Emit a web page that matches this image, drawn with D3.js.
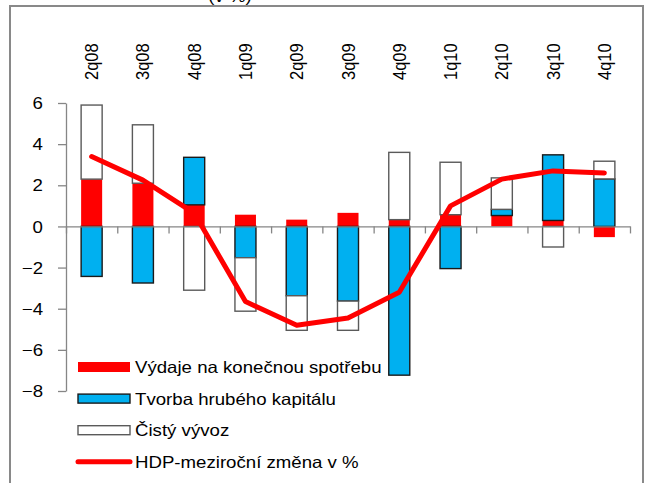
<!DOCTYPE html>
<html>
<head>
<meta charset="utf-8">
<script src="https://cdn.jsdelivr.net/npm/d3@7"></script>
<style>
    body { margin: 0; background: #fff; }
    text { font-family: "Liberation Sans", Arial, sans-serif; fill: #000; }
</style>
</head>
<body>
<svg id="chart"></svg>
<script>
var quarters = ['2q08', '3q08', '4q08', '1q09', '2q09', '3q09', '4q09', '1q10', '2q10', '3q10', '4q10'];

// složky příspěvku k růstu HDP (p.b.)
var spotreba = [2.3, 2.1, 1.05, 0.57, 0.33, 0.66, 0.33, 0.57, 0.53, 0.29, -0.52];
var kapital = [-2.43, -2.75, 2.31, -1.52, -3.37, -3.63, -7.23, -2.05, 0.3, 3.19, 2.31];
var vyvoz = [3.6, 2.84, -3.1, -2.6, -1.68, -1.42, 3.27, 2.55, 1.53, -1.0, 0.86];
var hdp = [3.4, 2.25, 0.65, -3.65, -4.8, -4.45, -3.2, 1.0, 2.3, 2.7, 2.6];

var yTicks = [6, 4, 2, 0, -2, -4, -6, -8];
var seriesNames = ['Výdaje na konečnou spotřebu', 'Tvorba hrubého kapitálu', 'Čistý vývoz', 'HDP-meziroční změna v %'];

var stretch = 'scale(1.13,1)';

var svg = d3.select('svg#chart')
    .attr('width', 650)
    .attr('height', 483) ;

// title, mostly cut off above the frame
svg.append('text')
    .attr('transform', 'translate(230,2) ' + stretch)
    .attr('text-anchor', 'middle')
    .style('font-size', '16.5px')
    .text('(v %)') ;

svg.append('rect')
    .attr('x', 10)
    .attr('y', 6)
    .attr('width', 633)
    .attr('height', 520)
    .attr('fill', 'none')
    .attr('stroke', '#898989')
    .attr('stroke-width', 2) ;

var x = d3.scaleBand()
    .domain(quarters)
    .range([66, 630])
    .paddingInner(0.59)
    .paddingOuter(0.295) ;

var xTicks = d3.scaleLinear()
    .domain([0, quarters.length])
    .range([66, 630]) ;

var y = d3.scaleLinear()
    .domain([-8, 6])
    .range([391, 103]) ;

var rows = quarters.map(function (q, i) {
    return { q: q, spotreba: spotreba[i], kapital: kapital[i], vyvoz: vyvoz[i] };
});

var stack = d3.stack()
    .keys(['spotreba', 'kapital', 'vyvoz'])
    .offset(d3.stackOffsetDiverging) ;

var fills = { spotreba: '#ff0000', kapital: '#00b0f0', vyvoz: '#ffffff' };
var strokes = { spotreba: 'none', kapital: '#1a1a1a', vyvoz: '#5a5a5a' };

// y axis
var yAxis = svg.append('g')
    .attr('transform', 'translate(66,0)')
    .call(d3.axisLeft(y).tickValues(yTicks).tickSize(8).tickSizeOuter(0)) ;
yAxis.select('.domain').attr('stroke', '#868686').attr('stroke-width', 1.3) ;
yAxis.selectAll('.tick line').attr('stroke', '#868686').attr('stroke-width', 1.3) ;
yAxis.selectAll('.tick text')
    .attr('x', null)
    .attr('transform', 'translate(-23,0) ' + stretch)
    .attr('dy', '0.34em')
    .style('font-size', '16.5px')
    .style('font-family', '"Liberation Sans", Arial, sans-serif')
    .attr('fill', '#000') ;

// bars
var layers = svg.append('g').selectAll('g.layer')
    .data(stack(rows))
    .enter().append('g')
    .classed('layer', true) ;

layers.selectAll('rect')
    .data(function (d) { return d.map(function (p) { return { key: d.key, p: p }; }); })
    .enter().append('rect')
    .attr('x', function (d) { return x(d.p.data.q); })
    .attr('width', x.bandwidth())
    .attr('y', function (d) { return y(Math.max(d.p[0], d.p[1])); })
    .attr('height', function (d) { return Math.abs(y(d.p[0]) - y(d.p[1])); })
    .attr('fill', function (d) { return fills[d.key]; })
    .attr('stroke', function (d) { return strokes[d.key]; })
    .attr('stroke-width', 1.4) ;

// zero axis with ticks between categories
var xAxis = svg.append('g')
    .attr('transform', 'translate(0,' + y(0) + ')')
    .call(d3.axisBottom(xTicks).tickValues(d3.range(quarters.length + 1)).tickSize(7).tickSizeOuter(0).tickFormat('')) ;
xAxis.select('.domain').attr('stroke', '#868686').attr('stroke-width', 1.3) ;
xAxis.selectAll('.tick line').attr('stroke', '#868686').attr('stroke-width', 1.3) ;

// category labels on top
svg.append('g').selectAll('text')
    .data(quarters)
    .enter().append('text')
    .attr('transform', function (d) {
        return 'translate(' + (x(d) + x.bandwidth() / 2) + ',80) ' + stretch + ' rotate(-90)';
    })
    .attr('dy', '0.35em')
    .style('font-size', '16.5px')
    .text(_ => _) ;

// HDP line
var line = d3.line()
    .x(function (d, i) { return x(quarters[i]) + x.bandwidth() / 2; })
    .y(function (d) { return y(d); }) ;

svg.append('path')
    .datum(hdp)
    .attr('d', line)
    .attr('fill', 'none')
    .attr('stroke', '#ff0000')
    .attr('stroke-width', 5)
    .attr('stroke-linejoin', 'round')
    .attr('stroke-linecap', 'round') ;

// legend
var legend = svg.append('g').selectAll('g.item')
    .data(seriesNames)
    .enter().append('g')
    .classed('item', true)
    .attr('transform', function (d, i) { return 'translate(0,' + (367 + 31.6 * i) + ')'; }) ;

legend.each(function (d, i) {
    var g = d3.select(this);
    if (i === 0) {
        g.append('rect').attr('x', 78).attr('y', -5).attr('width', 52).attr('height', 10)
            .attr('fill', '#ff0000') ;
    } else if (i === 1) {
        g.append('rect').attr('x', 78).attr('y', -4.5).attr('width', 52).attr('height', 9)
            .attr('fill', '#00b0f0').attr('stroke', '#1a1a1a').attr('stroke-width', 1.4) ;
    } else if (i === 2) {
        g.append('rect').attr('x', 78).attr('y', -4.5).attr('width', 52).attr('height', 9)
            .attr('fill', '#fff').attr('stroke', '#5a5a5a').attr('stroke-width', 1.4) ;
    } else {
        g.append('line').attr('x1', 78).attr('x2', 130).attr('y1', 0).attr('y2', 0)
            .attr('stroke', '#ff0000').attr('stroke-width', 5).attr('stroke-linecap', 'round') ;
    }
    g.append('text')
        .attr('transform', 'translate(135,6) ' + stretch)
        .style('font-size', '16.5px')
        .text(d) ;
});
</script>
</body>
</html>
